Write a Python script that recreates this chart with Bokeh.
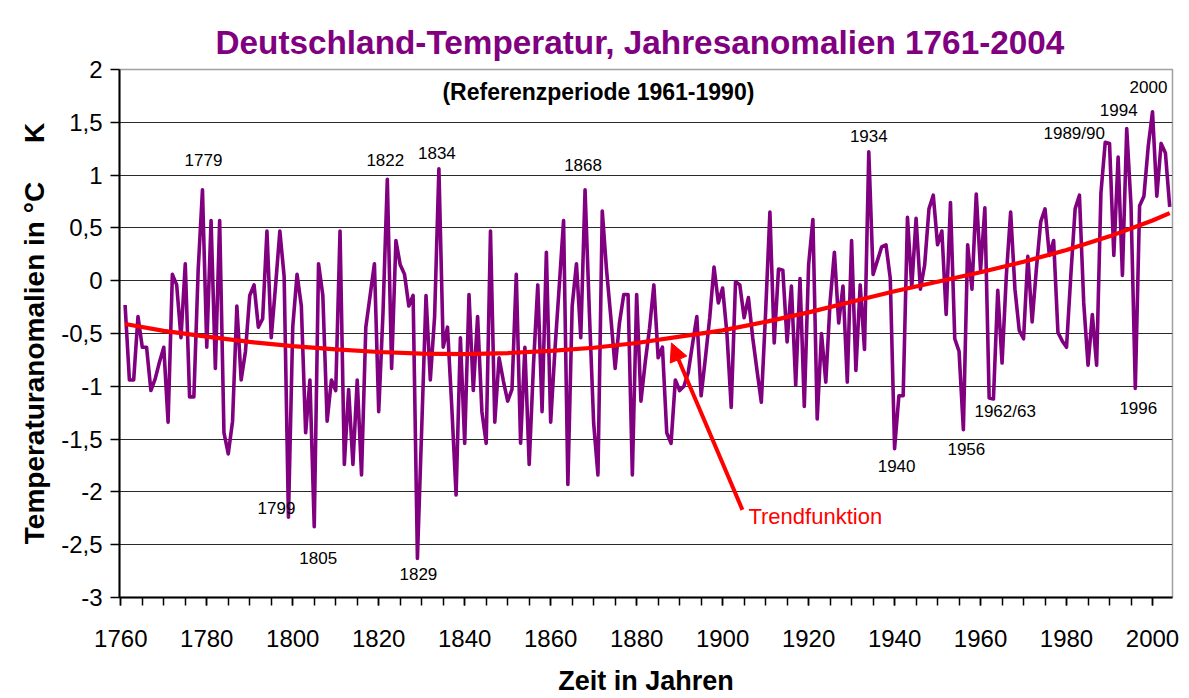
from bokeh.plotting import figure
from bokeh.models import (Range1d, SingleIntervalTicker, FixedTicker, CustomJSTickFormatter,
                          Label, Arrow, NormalHead)
from bokeh.embed import file_html
from bokeh.resources import INLINE

# ---------------- data ----------------
first_year = 1761
anom_1761_1800 = [-0.23, -0.94, -0.94, -0.34, -0.63, -0.63, -1.04, -0.93, -0.77, -0.63,
                  -1.34, 0.06, -0.04, -0.54, 0.16, -1.10, -1.10, 0.10, 0.86, -0.63,
                  0.57, -0.83, 0.57, -1.44, -1.64, -1.33, -0.24, -0.94, -0.67, -0.14,
                  -0.04, -0.44, -0.36, 0.47, -0.54, -0.05, 0.47, 0.04, -2.24, -0.44]
anom_1801_1840 = [0.06, -0.24, -1.44, -0.94, -2.33, 0.16, -0.14, -1.33, -0.94, -1.04,
                  0.47, -1.74, -1.03, -1.74, -0.94, -1.84, -0.44, -0.14, 0.16, -1.24,
                  -0.30, 0.96, -0.83, 0.38, 0.15, 0.06, -0.24, -0.14, -2.63, -1.40,
                  -0.14, -0.94, -0.34, 1.06, -0.63, -0.44, -1.20, -2.03, -0.54, -1.54]
anom_1841_1880 = [-0.13, -1.04, -0.34, -1.24, -1.54, 0.47, -1.34, -0.73, -0.95, -1.14,
                  -1.03, 0.06, -1.54, -0.63, -1.74, -0.80, -0.04, -1.24, 0.27, -1.34,
                  -0.65, -0.05, 0.57, -1.93, -0.24, 0.16, -0.54, 0.86, -0.30, -1.35,
                  -1.84, 0.66, 0.10, -0.35, -0.83, -0.40, -0.13, -0.13, -1.84, -0.13]
anom_1881_1920 = [-1.14, -0.77, -0.45, -0.04, -0.73, -0.63, -1.44, -1.54, -0.94, -1.04,
                  -1.00, -0.87, -0.60, -0.34, -1.09, -0.73, -0.35, 0.13, -0.21, -0.07,
                  -0.50, -1.20, -0.01, -0.04, -0.35, -0.16, -0.54, -0.85, -1.15, -0.30,
                  0.65, -0.59, 0.11, 0.10, -0.58, -0.05, -0.99, 0.02, -1.19, 0.15]
anom_1921_1960 = [0.58, -1.31, -0.50, -0.96, -0.20, 0.27, -0.40, -0.05, -0.96, 0.38,
                  -0.85, -0.04, -0.65, 1.22, 0.06, 0.19, 0.32, 0.34, 0.02, -1.59,
                  -1.09, -1.09, 0.60, -0.06, 0.59, -0.08, 0.15, 0.68, 0.81, 0.34,
                  0.47, -0.32, 0.74, -0.55, -0.67, -1.41, 0.34, -0.08, 0.82, 0.10]
anom_1961_2004 = [0.69, -1.11, -1.12, -0.09, -0.78, 0.05, 0.65, -0.08, -0.47, -0.55,
                  0.23, -0.39, 0.12, 0.56, 0.68, 0.24, 0.38, -0.49, -0.57, -0.63,
                  0.05, 0.68, 0.81, -0.21, -0.80, -0.32, -0.80, 0.83, 1.31, 1.30,
                  0.24, 1.17, 0.05, 1.44, 0.71, -1.02, 0.71, 0.80, 1.27, 1.60,
                  0.80, 1.30, 1.21, 0.70]

anomalies = (anom_1761_1800 + anom_1801_1840 + anom_1841_1880 +
             anom_1881_1920 + anom_1921_1960 + anom_1961_2004)
years = list(range(first_year, first_year + len(anomalies)))

trend_years = [1761, 1770, 1780, 1790, 1800, 1810, 1820, 1830, 1840, 1850, 1860, 1870,
               1880, 1890, 1900, 1910, 1920, 1930, 1940, 1950, 1960, 1970, 1980, 1990,
               2000, 2004]
trend_values = [-0.41, -0.475, -0.53, -0.58, -0.62, -0.65, -0.675, -0.69, -0.695, -0.685,
                -0.665, -0.635, -0.59, -0.53, -0.47, -0.39, -0.30, -0.20, -0.10, -0.01,
                0.08, 0.18, 0.29, 0.42, 0.57, 0.64]

x_ticks_every = 20
y_ticks_every = 0.5

peak_labels = ["1779", "1799", "1805", "1822", "1829", "1834", "1868", "1934", "1940",
               "1956", "1962/63", "1989/90", "1994", "1996", "2000"]

title_text = "Deutschland-Temperatur, Jahresanomalien 1761-2004"
subtitle_text = "(Referenzperiode 1961-1990)"
x_label = "Zeit in Jahren"
y_label = "Temperaturanomalien in °C\u00a0\u00a0\u00a0\u00a0\u00a0K"
trend_label = "Trendfunktion"

# ---------------- styling ----------------
FONT = "Liberation Sans"
PURPLE = "#800080"
RED = "#ff0000"

p = figure(width=1189, height=698, output_backend="svg", toolbar_location=None,
           x_range=Range1d(1759.7, 2004.65), y_range=Range1d(-3, 2),
           min_border_left=119, min_border_right=17, min_border_top=69,
           min_border_bottom=100, background_fill_color="white",
           border_fill_color="white")
p.outline_line_color = "#a0a0a0"
p.outline_line_width = 1.5

p.title.text = title_text
p.title.align = "left"
p.title.offset = 96
p.title.text_font = FONT
p.title.text_font_size = "33.3px"
p.title.text_font_style = "bold"
p.title.text_color = PURPLE
p.title.text_line_height = 0.75
p.title.standoff = 18

# x axis
p.xaxis.ticker = SingleIntervalTicker(interval=x_ticks_every, num_minor_ticks=4)
p.xaxis.major_tick_in = 0
p.xaxis.major_tick_out = 8
p.xaxis.minor_tick_in = 0
p.xaxis.minor_tick_out = 8
p.xaxis.major_tick_line_color = "black"
p.xaxis.minor_tick_line_color = "black"
p.xaxis.major_tick_line_width = 1.5
p.xaxis.minor_tick_line_width = 1.5
p.xaxis.axis_line_color = "black"
p.xaxis.axis_line_width = 2
p.xaxis.major_label_text_font = FONT
p.xaxis.major_label_text_font_size = "24px"
p.xaxis.major_label_text_color = "black"
p.xaxis.major_label_standoff = 24
p.xaxis.axis_label = x_label
p.xaxis.axis_label_text_font = FONT
p.xaxis.axis_label_text_font_size = "27px"
p.xaxis.axis_label_text_font_style = "bold"
p.xaxis.axis_label_text_color = "black"
p.xaxis.axis_label_standoff = 16

# y axis
p.yaxis.ticker = SingleIntervalTicker(interval=y_ticks_every, num_minor_ticks=0)
p.yaxis.formatter = CustomJSTickFormatter(code="return tick.toString().replace('.', ',');")
p.yaxis.major_tick_in = 0
p.yaxis.major_tick_out = 9
p.yaxis.major_tick_line_color = "black"
p.yaxis.major_tick_line_width = 1.5
p.yaxis.axis_line_color = "black"
p.yaxis.axis_line_width = 2
p.yaxis.major_label_text_font = FONT
p.yaxis.major_label_text_font_size = "24px"
p.yaxis.major_label_text_color = "black"
p.yaxis.major_label_standoff = 8
p.yaxis.axis_label = y_label
p.yaxis.axis_label_text_font = FONT
p.yaxis.axis_label_text_font_size = "28px"
p.yaxis.axis_label_text_font_style = "bold"
p.yaxis.axis_label_text_color = "black"
p.yaxis.axis_label_standoff = 8

p.xgrid.visible = False
p.ygrid.ticker = FixedTicker(ticks=[-2.5, -2, -1.5, -1, -0.5, 0, 0.5, 1, 1.5])
p.ygrid.grid_line_color = "#2a2a2a"
p.ygrid.grid_line_width = 1.2

# series
p.line(years, anomalies, line_color=PURPLE, line_width=3.6, line_join="round")
p.line(trend_years, trend_values, line_color=RED, line_width=4.2, line_join="round")

# annotations: year labels anchored on their data point, offset in pixels
label_offsets = {"1779": (1, 30), "1799": (-12, 9), "1805": (4, -31), "1822": (-2, 19),
                 "1829": (1, -16), "1834": (-2, 16), "1868": (-2, 25), "1934": (0, 16),
                 "1940": (2, -17), "1956": (3, -19), "1962/63": (16, -14),
                 "1989/90": (-31, 9), "1994": (-8, 19), "1996": (3, -20), "2000": (-4, 25)}
for txt in peak_labels:
    yr = int(txt.split("/")[0])
    val = anomalies[years.index(yr)]
    dx, dy = label_offsets[txt]
    p.add_layout(Label(x=yr, y=val, x_offset=dx, y_offset=dy, text=txt,
                       text_font=FONT, text_font_size="17px", text_color="black",
                       text_align="center", text_baseline="middle"))

p.add_layout(Label(x=1871.1, y=1.783, text=subtitle_text, text_font=FONT,
                   text_font_size="23px", text_font_style="bold", text_color="black",
                   text_align="center", text_baseline="middle"))

p.add_layout(Arrow(end=NormalHead(size=18, fill_color=RED, line_color=RED, line_width=1),
                   x_start=1904.6, y_start=-2.17, x_end=1888.1, y_end=-0.59,
                   line_color=RED, line_width=4))
p.add_layout(Label(x=1906.0, y=-2.234, text=trend_label, text_font=FONT,
                   text_font_size="22px", text_color=RED,
                   text_align="left", text_baseline="middle"))

open("out.html", "w").write(file_html(p, INLINE))
